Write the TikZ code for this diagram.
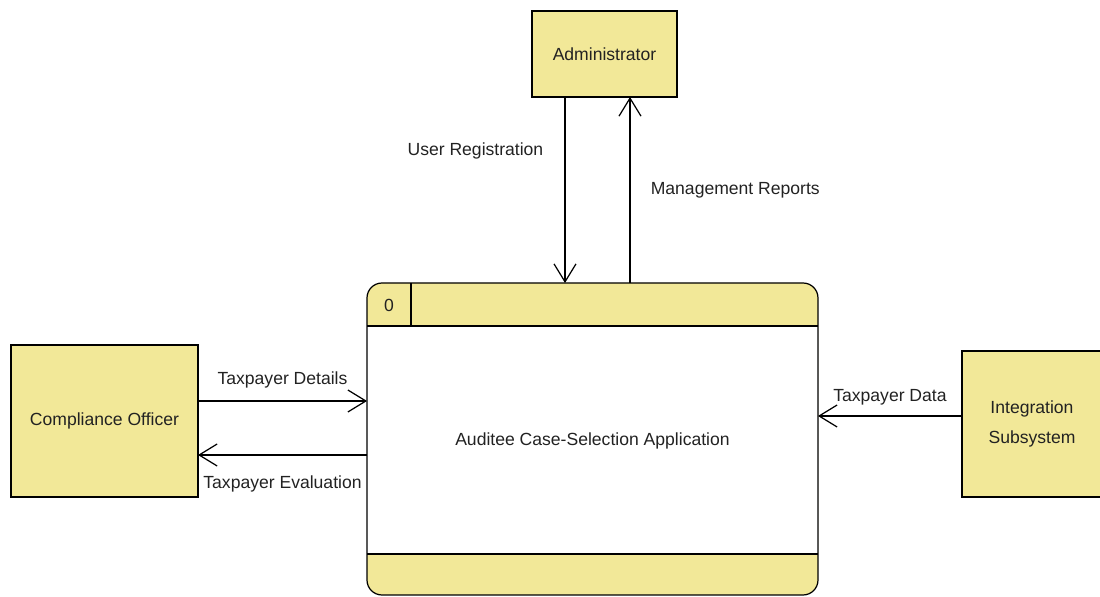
\documentclass[tikz,border=0pt]{standalone}
\usepackage{fontspec}
\setmainfont{Liberation Sans}
\usetikzlibrary{arrows.meta}
\definecolor{entfill}{RGB}{242,232,152}
\definecolor{inktext}{RGB}{34,34,34}

\begin{document}
\begin{tikzpicture}[x=0.02cm,y=-0.02cm,line width=0.7pt,font=\fontsize{10}{12}\selectfont,
            entity/.style={draw,fill=entfill,outer sep=0pt,text=inktext,align=center},
            flow/.style={-{Straight Barb[length=3.6mm,width=4.4mm]}},
            lbl/.style={text=inktext,inner sep=0pt}]
            \useasboundingbox (0,0) rectangle (1100,597);
            \fill[entfill,rounded corners=0.3cm] (367,283) rectangle (818,595);
            \fill[white] (367,326) rectangle (818,554);
            \draw[rounded corners=0.3cm] (367,283) rectangle (818,595);
            \draw (367,326) -- (818,326);
            \draw (367,554) -- (818,554);
            \draw (411,283) -- (411,326);
            \node[lbl] (N) at (389,305) {0};
            \node[outer sep=0pt,inner sep=0pt,minimum width=9.02cm,minimum height=6.24cm] (P) at (592.5,439) {};
            \node[lbl] (L) at (592.5,441) {Auditee Case-Selection Application};
            \node[entity,minimum width=2.9cm,minimum height=1.72cm] (A) at (604.5,54) {Administrator};
            \node[entity,minimum width=3.74cm,minimum height=3.04cm] (C) at (104.5,421) {Compliance Officer};
            \node[entity,minimum width=2.8cm,minimum height=2.92cm] (I) at (1032,424) {Integration\\[5pt]Subsystem};
            \coordinate (ux) at (565,0);
            \coordinate (mx) at (630,0);
            \coordinate (dy) at (0,401);
            \coordinate (ey) at (0,455);
            \coordinate (iy) at (0,416);
            \draw[flow] (A.south -| ux) to node[lbl,anchor=east,pos=0.29,xshift=-12pt] (UR) {User Registration} (P.north -| ux);
            \draw[flow] (P.north -| mx) to node[lbl,anchor=west,pos=0.5,xshift=11.5pt] (MR) {Management Reports} (A.south -| mx);
            \draw[flow] (C.east |- dy) to node[lbl,above=7pt] (TD) {Taxpayer Details} (P.west |- dy);
            \draw[flow] (P.west |- ey) to node[lbl,below=11.5pt] (TE) {Taxpayer Evaluation} (C.east |- ey);
            \draw[flow] (I.west |- iy) to node[lbl,above=6pt] (TA) {Taxpayer Data} (P.east |- iy);
        \end{tikzpicture}
\end{document}
